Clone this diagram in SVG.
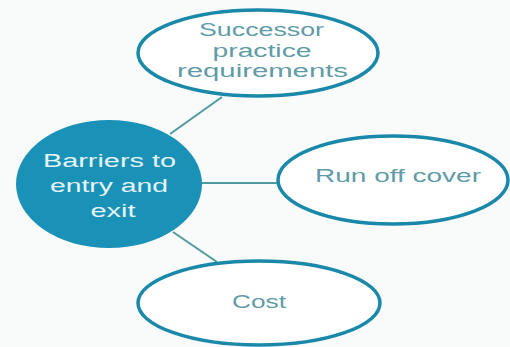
<svg xmlns="http://www.w3.org/2000/svg" width="510" height="347" viewBox="0 0 510 347">
<style>
.bubble{fill:#ffffff;stroke:#1a88a9;stroke-width:3.5}
.hub{fill:#1a92b8}
.lbl{font-family:"Liberation Sans",Arial,sans-serif;font-size:18px;fill:#5f9ca8;text-anchor:middle}
.hlbl{font-family:"Liberation Sans",Arial,sans-serif;font-size:18px;fill:#e6f4f8;text-anchor:middle}
.conn{stroke:#4e9a9e;stroke-width:2;fill:none}
</style>
<rect width="510" height="347" fill="#f9fbfb"/>
<g id="connectors">
<line class="conn" x1="170" y1="134" x2="222" y2="97"/>
<line class="conn" x1="201" y1="183" x2="277" y2="183"/>
<line class="conn" x1="173" y1="232" x2="217" y2="262"/>
</g>
<g id="successor">
<ellipse class="bubble" cx="258" cy="53" rx="120" ry="43"/>
<text class="lbl" x="261.5" y="36" textLength="125" lengthAdjust="spacingAndGlyphs">Successor</text>
<text class="lbl" x="262" y="56.5" textLength="99" lengthAdjust="spacingAndGlyphs">practice</text>
<text class="lbl" x="262.5" y="77" textLength="171" lengthAdjust="spacingAndGlyphs">requirements</text>
</g>
<g id="barriers">
<ellipse class="hub" cx="109" cy="184" rx="93" ry="64"/>
<text class="hlbl" x="109.5" y="167" textLength="133" lengthAdjust="spacingAndGlyphs">Barriers to</text>
<text class="hlbl" x="109" y="192" textLength="118" lengthAdjust="spacingAndGlyphs">entry and</text>
<text class="hlbl" x="113" y="217" textLength="45" lengthAdjust="spacingAndGlyphs">exit</text>
</g>
<g id="runoff">
<ellipse class="bubble" cx="393" cy="180" rx="115" ry="44"/>
<text class="lbl" x="398" y="182" textLength="166" lengthAdjust="spacingAndGlyphs">Run off cover</text>
</g>
<g id="cost">
<ellipse class="bubble" cx="259" cy="303" rx="121" ry="42"/>
<text class="lbl" x="259" y="308" textLength="54" lengthAdjust="spacingAndGlyphs">Cost</text>
</g>
</svg>
